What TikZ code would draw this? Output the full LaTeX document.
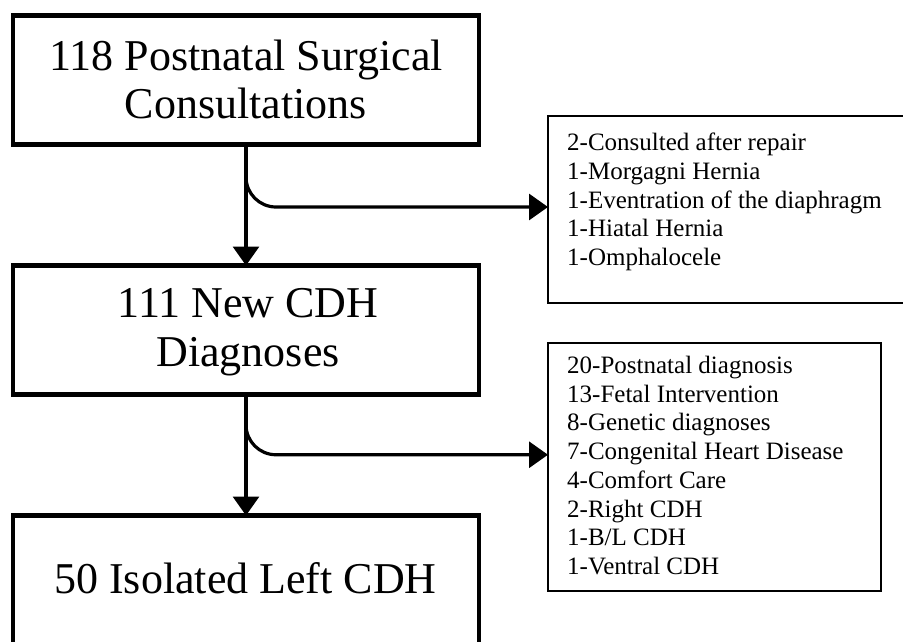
\documentclass[tikz,border=0pt]{standalone}
\usepackage{fontspec}
\setmainfont{Liberation Serif}
\usetikzlibrary{arrows.meta}
\begin{document}
\begin{tikzpicture}[x=1pt,y=-1pt,
  bigbox/.style={draw, line width=4.5pt, inner sep=0pt, outer sep=0pt, minimum width=466pt, minimum height=129pt},
  sidebox/.style={draw, line width=2pt, inner sep=0pt, outer sep=0pt},
  bigtext/.style={font=\fontsize{44}{48.5}\selectfont, align=center, inner sep=0pt},
  sidetext/.style={font=\fontsize{25}{28.7}\selectfont, align=left, inner sep=0pt, anchor=north west},
  conn/.style={line width=3.2pt},
  tipend/.style={-{Triangle[length=19pt,width=26pt]}}
]
\useasboundingbox (0,0) rectangle (903,641);
\clip (0,0) rectangle (903,641);
% main boxes
\node[bigbox] (b1) at (246,80) {};
\node[bigbox] (b2) at (246,330) {};
\node[bigbox] (b3) at (246,580) {};
\node[bigtext] (t1) at (246,79.25) {118 Postnatal Surgical\\Consultations};
\node[bigtext] (t2) at (248,332.25) {111 New CDH\\Diagnoses};
\node[bigtext, anchor=base] (t3) at (245.5,593) {50 Isolated Left CDH};
% side boxes
\node[sidebox, minimum width=370pt, minimum height=186.5pt] (r1) at (733,209.25) {};
\node[sidebox, minimum width=333pt, minimum height=248.5pt] (r2) at (714.5,466.75) {};
\node[sidetext] (s1) at (567,133) {2-Consulted after repair\\1-Morgagni Hernia\\1-Eventration of the diaphragm\\1-Hiatal Hernia\\1-Omphalocele};
\node[sidetext] (s2) at (567,356) {20-Postnatal diagnosis\\13-Fetal Intervention\\8-Genetic diagnoses\\7-Congenital Heart Disease\\4-Comfort Care\\2-Right CDH\\1-B/L CDH\\1-Ventral CDH};
% connectors
\draw[conn, tipend] (b1.south) -- (b2.north);
\draw[conn, tipend] (b2.south) -- (b3.north);
\draw[conn, tipend, rounded corners=30pt] (b1.south) |- ([yshift=2.25pt]r1.west);
\draw[conn, tipend, rounded corners=30pt] (b2.south) |- ([yshift=12pt]r2.west);
\end{tikzpicture}
\end{document}
